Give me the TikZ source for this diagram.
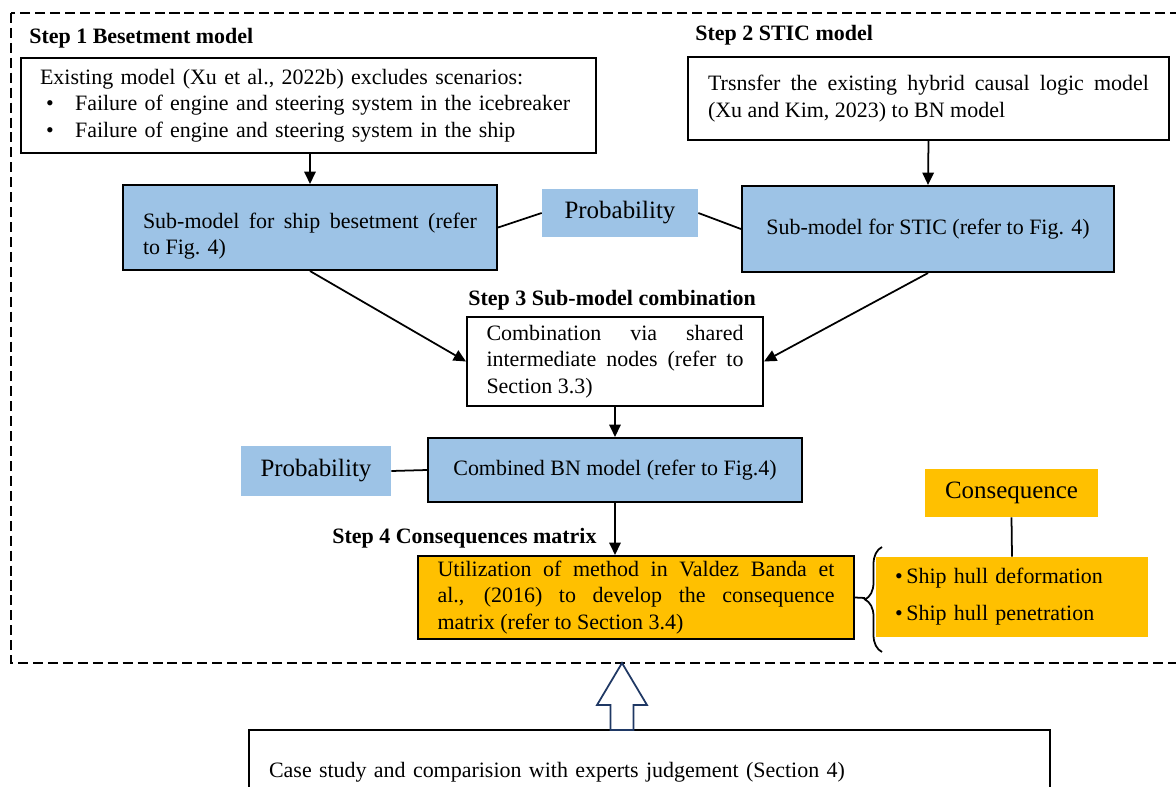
\documentclass[tikz,border=0pt]{standalone}
\usepackage{fontspec}
\setmainfont{Liberation Serif}
\usepackage{tikz}
\usetikzlibrary{arrows.meta}
\usetikzlibrary{decorations.pathreplacing}

\definecolor{nodeblue}{HTML}{9DC3E6}
\definecolor{nodeorange}{HTML}{FFC000}
\definecolor{arrownavy}{HTML}{1F3864}
\newcommand{\bodysize}{\fontsize{12.5}{15}\selectfont}
\newcommand{\bigsize}{\fontsize{14.2}{17}\selectfont}

\begin{document}
\begin{tikzpicture}[x=0.02cm, y=-0.02cm,
    box/.style={draw, line width=1.2pt, inner sep=0pt, font=\bodysize},
    txtbox/.style={box, fill=white},
    bluebox/.style={box, fill=nodeblue},
    orangebox/.style={box, fill=nodeorange},
    flat/.style={inner sep=0pt, font=\bigsize},
    probbox/.style={flat, fill=nodeblue},
    steplabel/.style={anchor=west, inner sep=0pt, font=\bodysize\bfseries},
    arr/.style={-{Triangle[length=7pt,width=6.5pt]}, line width=1pt},
    link/.style={line width=1pt}]
    \clip (0,0) rectangle (1176,787);
    \draw[dash pattern=on 5.7pt off 2.8pt, line width=1.1pt] (11,13) rectangle (1200,663);

    % step 1
    \node[steplabel] (s1) at (29,38) {Step 1 Besetment model};
    \node[txtbox, minimum width=11.5cm, minimum height=1.9cm, text width=10.74cm, align=left] (exist) at (308.5,105.5)
      {Existing model (Xu et al., 2022b) excludes scenarios:\\
       \mbox{\makebox[0.7cm][l]{\hspace{0.12cm}\textbullet}Failure of engine and steering system in the icebreaker}\\
       \mbox{\makebox[0.7cm][l]{\hspace{0.12cm}\textbullet}Failure of engine and steering system in the ship}};
    \node[bluebox, minimum width=7.48cm, minimum height=1.7cm, text width=6.68cm, align=justify] (besub) at (310,227.5)
      {\rule{0pt}{19pt}Sub-model for ship besetment (refer\linebreak to Fig. 4)};
    \node[probbox, minimum width=3.12cm, minimum height=0.96cm] (prob1) at (620,213) {Probability};

    % step 2
    \node[steplabel] (s2) at (695,35) {Step 2 STIC model};
    \node[txtbox, minimum width=9.62cm, minimum height=1.66cm, text width=8.82cm, align=justify] (hcl) at (928.5,98.5)
      {Trsnsfer the existing hybrid causal logic model\linebreak (Xu and Kim, 2023) to BN model};
    \node[bluebox, minimum width=7.44cm, minimum height=1.72cm] (sticsub) at (928,229) {Sub-model for STIC (refer to Fig. 4)};

    % step 3
    \node[steplabel] (s3) at (468,300) {Step 3 Sub-model combination};
    \node[txtbox, minimum width=5.92cm, minimum height=1.78cm, text width=5.14cm, align=justify] (comb) at (615,361.5)
      {Combination via shared\linebreak intermediate nodes (refer to\linebreak Section 3.3)};
    \node[bluebox, minimum width=7.48cm, minimum height=1.28cm] (bn) at (615,470) {Combined BN model (refer to Fig.4)};
    \node[probbox, minimum width=3cm, minimum height=1cm] (prob2) at (316,471) {Probability};

    % step 4
    \node[steplabel] (s4) at (332,538) {Step 4 Consequences matrix};
    \node[orangebox, minimum width=8.72cm, minimum height=1.66cm, text width=7.94cm, align=justify] (cmat) at (636,597.5)
      {Utilization of method in Valdez Banda et\linebreak al., (2016) to develop the consequence\linebreak matrix (refer to Section 3.4)};
    \node[flat, fill=nodeorange, minimum width=3.46cm, minimum height=0.96cm] (conseq) at (1011.5,493) {Consequence};
    \node[flat, fill=nodeorange, font=\bodysize, minimum width=5.44cm, minimum height=1.6cm, text width=4.68cm, align=left] (hull) at (1012,597)
      {\textbullet\,Ship hull deformation\\[6pt]\textbullet\,Ship hull penetration};
    \coordinate (brtip) at (865,598);
    \draw[link, decorate, decoration={brace, amplitude=0.34cm}] (882,652) -- (882,547);

    % case study
    \node[txtbox, minimum width=16.02cm, minimum height=1.68cm, text width=15.22cm, align=left] (case) at (649.5,772)
      {Case study and comparision with experts judgement (Section 4)};
    \coordinate (up) at (622,730);
    \draw[draw=arrownavy, fill=white, line width=1pt] (up) ++(-11.5,0) -- ++(0,-25) -- ++(-13.5,0) -- ++(25,-42)
      -- ++(25,42) -- ++(-13.5,0) -- ++(0,25) -- cycle;

    \draw[arr] (exist.south -| besub.north) -- (besub.north);
    \draw[arr] (hcl.south) -- (sticsub.north);
    \draw[link] (besub.east) -- (prob1.west);
    \draw[link] (prob1.east) -- (sticsub.west);
    \draw[arr] (besub.south) -- (comb.west);
    \draw[arr] (sticsub.south) -- (comb.east);
    \draw[arr] (comb.south) -- (bn.north);
    \draw[link] (prob2.east) -- (bn.west);
    \draw[arr] (bn.south) -- (bn.south |- cmat.north);
    \draw[link] (cmat.east) -- (brtip);
    \draw[link] (conseq.south) -- (hull.north);
\end{tikzpicture}
\end{document}
